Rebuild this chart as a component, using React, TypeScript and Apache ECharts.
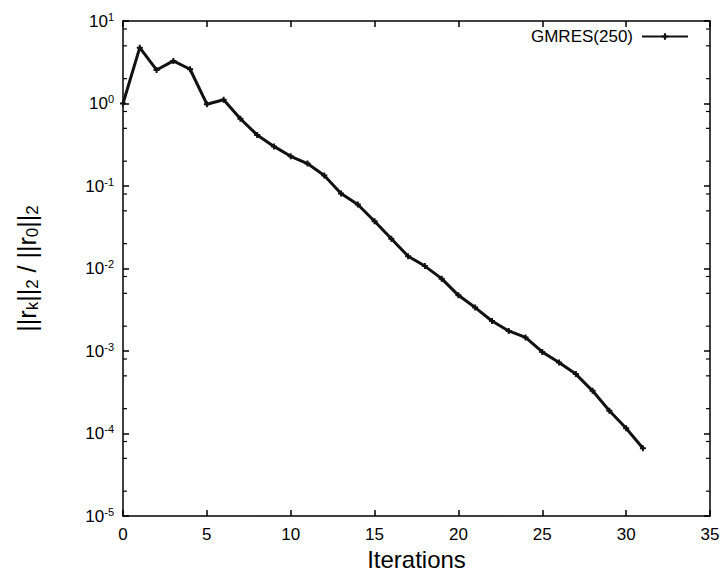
import React, { useEffect, useRef } from "react";
import * as echarts from "echarts";

const iterations = [
  0, 1, 2, 3, 4, 5, 6, 7, 8, 9, 10, 11, 12, 13, 14, 15, 16, 17, 18, 19, 20,
  21, 22, 23, 24, 25, 26, 27, 28, 29, 30, 31,
];
const residuals = [
  1.0, 4.75, 2.55, 3.28, 2.6, 0.98, 1.11, 0.653, 0.415, 0.302, 0.229, 0.187,
  0.134, 0.081, 0.0596, 0.0374, 0.0229, 0.0141, 0.0107, 0.00753, 0.00473,
  0.00336, 0.00231, 0.00175, 0.00146, 0.000975, 0.000724, 0.000525, 0.000329,
  0.000189, 0.000116, 0.0000662,
];
const seriesName = "GMRES(250)";
const xTicks = [0, 5, 10, 15, 20, 25, 30, 35];
const yDecades = [-5, -4, -3, -2, -1, 0, 1];
const minorMultipliers = [2, 5, 8];

const FONT = "'Liberation Sans', Arial, Helvetica, sans-serif";
const PLUS = "path://M2,0H4V2H6V4H4V6H2V4H0V2H2Z";

export default function App() {
  const ref = useRef<HTMLDivElement>(null);
  useEffect(() => {
    if (!ref.current) return;
    const chart = echarts.init(ref.current, undefined, { renderer: "svg" });
    const supLabel = (v: number) => {
      const e = Math.round(Math.log10(v));
      return `{b|10}{s|${e}}`;
    };
    const rich = {
      b: { fontSize: 17, fontFamily: FONT, color: "#000" },
      s: { fontSize: 11, fontFamily: FONT, color: "#000", padding: [0, 0, 9, 0] },
    };
    const option: any = {
      animation: false,
      backgroundColor: "#fff",
      grid: { left: 123, right: 13, top: 21, bottom: 61, containLabel: false },
      legend: {
        data: [seriesName],
        right: 29,
        top: 23,
        align: "right",
        itemWidth: 46,
        itemHeight: 8,
        textStyle: { fontSize: 17, fontFamily: FONT, color: "#000", padding: [0, 4, 0, 0] },
      },
      xAxis: [
        {
          type: "value",
          min: 0,
          max: 35,
          interval: 5,
          name: "Iterations",
          nameLocation: "middle",
          nameGap: 31,
          nameTextStyle: { fontSize: 24, fontFamily: FONT, color: "#000" },
          axisLine: { show: true, lineStyle: { color: "#000", width: 1.5 } },
          axisTick: { show: true, inside: true, length: 6, lineStyle: { color: "#000", width: 1.5 } },
          axisLabel: { fontSize: 17, fontFamily: FONT, color: "#000", margin: 10 },
          splitLine: { show: false },
        },
        {
          type: "value",
          position: "top",
          min: 0,
          max: 35,
          interval: 5,
          axisLine: { show: true, onZero: false, lineStyle: { color: "#000", width: 1.5 } },
          axisTick: { show: true, inside: true, length: 6, lineStyle: { color: "#000", width: 1.5 } },
          axisLabel: { show: false },
          splitLine: { show: false },
        },
      ],
      yAxis: [
        {
          type: "log",
          logBase: 10,
          min: 1e-5,
          max: 10,
          interval: 1,
          name: `||r{sb|k}||{sb|2} / ||r{sb|0}||{sb|2}`,
          nameLocation: "middle",
          nameGap: 82,
          nameRotate: 90,
          nameTextStyle: {
            fontSize: 25,
            fontFamily: FONT,
            color: "#000",
            rich: {
              sb: { fontSize: 17, fontFamily: FONT, color: "#000", padding: [11, 0, 0, 0] },
            },
          },
          axisLine: { show: true, onZero: false, lineStyle: { color: "#000", width: 1.5 } },
          axisTick: { show: true, inside: true, length: 6, lineStyle: { color: "#000", width: 1.5 } },
          axisLabel: { formatter: supLabel, rich, margin: 9 },
          splitLine: { show: false },
        },
        {
          type: "log",
          logBase: 10,
          min: 1e-5,
          max: 10,
          interval: 1,
          position: "right",
          axisLine: { show: true, onZero: false, lineStyle: { color: "#000", width: 1.5 } },
          axisTick: { show: true, inside: true, length: 6, lineStyle: { color: "#000", width: 1.5 } },
          axisLabel: { show: false },
          splitLine: { show: false },
        },
      ],
      series: [
        {
          name: seriesName,
          type: "line",
          xAxisIndex: 0,
          yAxisIndex: 0,
          data: iterations.map((x, i) => [x, residuals[i]]),
          symbol: PLUS,
          symbolSize: 6,
          showSymbol: true,
          lineStyle: { color: "#111", width: 3 },
          itemStyle: { color: "#111" },
          z: 3,
        },
      ],
    };
    chart.setOption(option);

    const graphics: any[] = [];
    const leftX = chart.convertToPixel({ xAxisIndex: 0 }, xTicks[0]) as number;
    const rightX = chart.convertToPixel({ xAxisIndex: 0 }, xTicks[xTicks.length - 1]) as number;
    for (const d of yDecades) {
      for (const m of minorMultipliers) {
        const v = m * Math.pow(10, d);
        if (v > 10 || v < 1e-5) continue;
        const py = chart.convertToPixel({ yAxisIndex: 0 }, v) as number;
        graphics.push({
          type: "line",
          shape: { x1: leftX, y1: py, x2: leftX + 4, y2: py },
          style: { stroke: "#000", lineWidth: 1.2 },
          silent: true,
        });
        graphics.push({
          type: "line",
          shape: { x1: rightX - 4, y1: py, x2: rightX, y2: py },
          style: { stroke: "#000", lineWidth: 1.2 },
          silent: true,
        });
      }
    }
    chart.setOption({ graphic: graphics });
    return () => chart.dispose();
  }, []);
  return (
    <div
      ref={ref}
      style={{ position: "fixed", left: 0, top: 0, width: 723, height: 577, background: "#fff" }}
    />
  );
}
